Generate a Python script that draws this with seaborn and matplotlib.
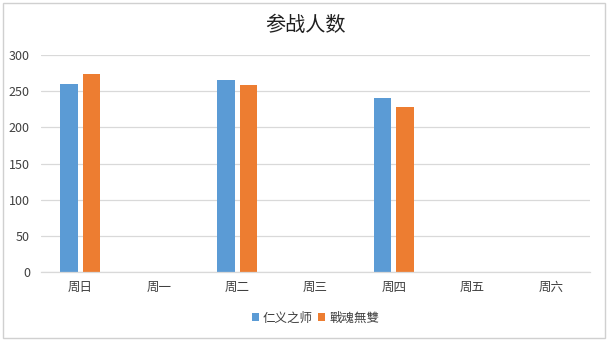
import matplotlib
matplotlib.use("Agg")
import matplotlib.pyplot as plt
import seaborn as sns
import pandas as pd
import numpy as np
from matplotlib.patches import Rectangle

days = ["周日", "周一", "周二", "周三", "周四", "周五", "周六"]
series_names = ["仁义之师", "戰魂無雙"]
renyi = [260, np.nan, 265, np.nan, 240, np.nan, np.nan]
zhanhun = [274, np.nan, 258, np.nan, 228, np.nan, np.nan]
yticks = [0, 50, 100, 150, 200, 250, 300]

rows = []
for d, a, b in zip(days, renyi, zhanhun):
    if not np.isnan(a):
        rows.append({"day": d, "team": series_names[0], "value": a})
    if not np.isnan(b):
        rows.append({"day": d, "team": series_names[1], "value": b})
df = pd.DataFrame(rows)

sns.set_theme(style="white")
plt.rcParams['font.family'] = ['Noto Sans CJK SC', 'DejaVu Sans']

fig = plt.figure(figsize=(6.1, 3.41), dpi=100)
ax = fig.add_axes([0.0672, 0.2009, 0.9, 0.6387])

sns.barplot(data=df, x="day", y="value", hue="team", order=days,
            hue_order=series_names, palette=["#5B9BD5", "#ED7D31"],
            saturation=1, linewidth=0, edgecolor="none",
            width=0.574, gap=0.22, ax=ax, legend=True)

ax.set_ylim(0, 300)
ax.set_xlim(-0.5, 6.5)
ax.set_yticks(yticks)
ax.yaxis.grid(True, color="#D9D9D9", linewidth=0.9)
ax.set_axisbelow(True)
for s in ["top", "right", "left"]:
    ax.spines[s].set_visible(False)
ax.spines["bottom"].set_color("#D9D9D9")
ax.spines["bottom"].set_linewidth(0.9)
ax.tick_params(axis="both", length=0, labelsize=9, colors="#404040", pad=6)
ax.tick_params(axis="y", pad=8)
ax.set_xlabel("")
ax.set_ylabel("")

fig.text(0.5, 0.925, "参战人数", ha="center", va="center", fontsize=14.5, color="#202020")

leg = ax.legend(loc="center", bbox_to_anchor=(0.5, -0.209), ncol=2, frameon=False,
                fontsize=9, handlelength=0.6, handleheight=0.6, handletextpad=0.3,
                columnspacing=0.4, labelcolor="#404040")

fig.patches.append(Rectangle((3/610, 3/341), 602/610, 335/341, transform=fig.transFigure,
                             fill=False, edgecolor="#D0D0D0", linewidth=1))

fig.savefig("out.png", dpi=100)
